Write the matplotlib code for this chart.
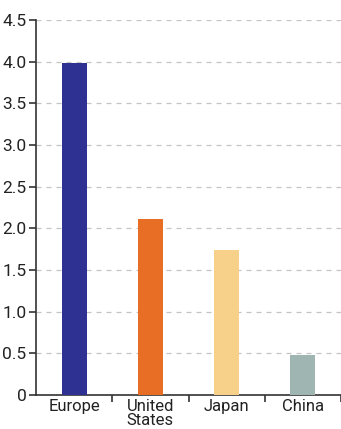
import matplotlib.pyplot as plt
from matplotlib import font_manager

regions = ["Europe", "United\nStates", "Japan", "China"]
values = [3.98, 2.11, 1.74, 0.48]
colors = ["#2e3192", "#e86e25", "#f7d08a", "#9fb5b2"]
yticks = [0, 0.5, 1.0, 1.5, 2.0, 2.5, 3.0, 3.5, 4.0, 4.5]
ytick_labels = ["0", "0.5", "1.0", "1.5", "2.0", "2.5", "3.0", "3.5", "4.0", "4.5"]

names = {f.name for f in font_manager.fontManager.ttflist}
family = "Liberation Sans Narrow" if "Liberation Sans Narrow" in names else "Roboto"
plt.rcParams["font.family"] = [family, "DejaVu Sans"]

fig = plt.figure(figsize=(3.41, 4.29), dpi=100)
ax = fig.add_axes([36 / 341, 34 / 429, 305 / 341, 375 / 429])

pos = range(len(regions))
ax.bar(pos, values, width=0.33, color=colors, zorder=3)

ax.set_xlim(-0.5, 3.5)
ax.set_ylim(0, 4.5)
ax.set_yticks(yticks)
ax.set_yticklabels(ytick_labels, fontsize=12.5, color="#222222")

# category labels sit between the boundary ticks
ax.set_xticks([0.5, 1.5, 2.5, 3.5])
ax.set_xticklabels([])
ax.set_xticks(list(pos), minor=True)
ax.set_xticklabels(regions, minor=True, fontsize=12, color="#222222",
                   linespacing=0.9, va="top")
ax.tick_params(axis="x", which="minor", length=0, pad=3)
ax.tick_params(axis="x", which="major", length=5, width=1.2, color="#333333")
ax.tick_params(axis="y", length=5, width=1.2, color="#333333", pad=2)

ax.grid(axis="y", color="#c4c4c4", linestyle=(0, (4, 4)), linewidth=0.9, zorder=0)
for side in ["top", "right"]:
    ax.spines[side].set_visible(False)
for side in ["left", "bottom"]:
    ax.spines[side].set_color("#333333")
    ax.spines[side].set_linewidth(1.2)

fig.savefig("out.png", dpi=100)
